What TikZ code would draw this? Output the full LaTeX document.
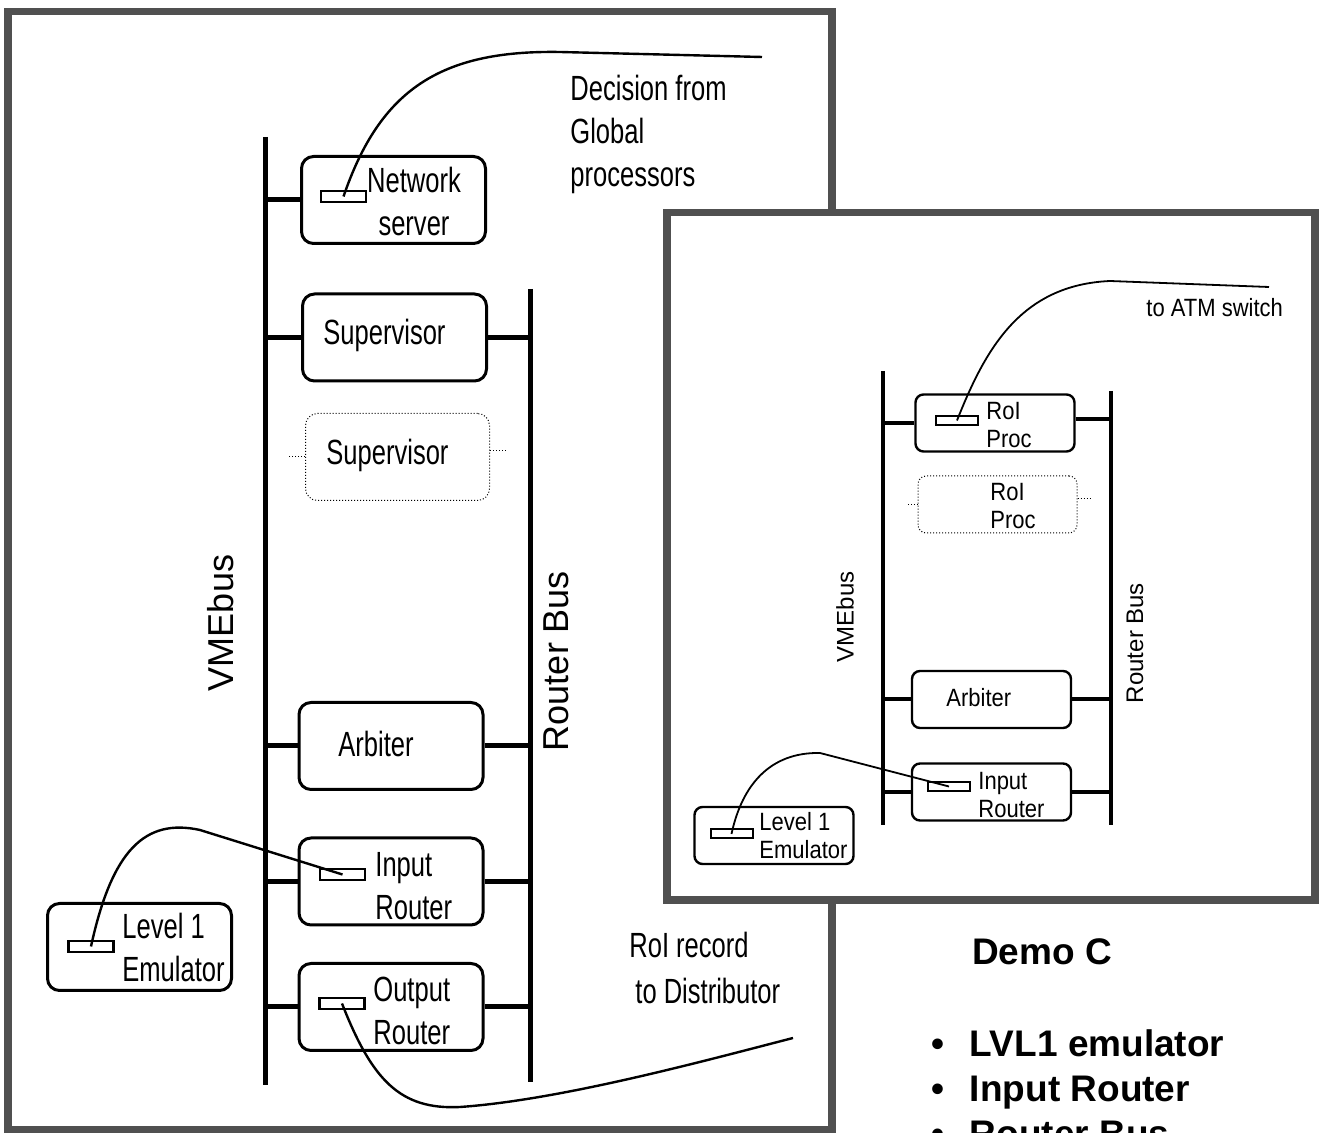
\documentclass[tikz,border=0pt]{standalone}
\usepackage{fontspec}
\setmainfont{Liberation Sans}
\newfontfamily\bignarrow[FakeStretch=0.73]{Liberation Sans}
\newfontfamily\smallnarrow[FakeStretch=0.88]{Liberation Sans}
\usepackage{tikz}
\usetikzlibrary{positioning}
\definecolor{framegray}{RGB}{80,80,80}

\begin{document}
\begin{tikzpicture}[x=0.5pt, y=-0.5pt,
    bx/.style={rectangle, draw, rounded corners=6pt, line width=1.5pt, minimum width=92pt, minimum height=43.5pt, inner sep=0pt},
    gbx/.style={bx, line width=0.5pt, densely dotted},
    sbx/.style={rectangle, draw, rounded corners=4pt, line width=1.2pt, minimum width=79.5pt, minimum height=28.5pt, inner sep=0pt},
    gsbx/.style={sbx, line width=0.5pt, densely dotted},
    pt/.style={rectangle, draw, line width=1.3pt, minimum width=22.5pt, minimum height=5.5pt, inner sep=0pt},
    spt/.style={pt, line width=1pt, minimum width=21pt, minimum height=4.5pt},
    bl/.style={font={\bignarrow\fontsize{17.5}{21.5}\selectfont}, inner sep=0pt, align=left},
    sl/.style={font={\smallnarrow\fontsize{12.5}{14}\selectfont}, inner sep=0pt, align=left},
    busl/.style={font=\fontsize{18}{18}\selectfont, rotate=90},
    sbusl/.style={font=\fontsize{12}{12}\selectfont, rotate=90},
    bus/.style={line width=2.5pt},
    sbus/.style={line width=2.2pt},
    tap/.style={line width=2.5pt},
    stap/.style={line width=2pt},
    ghosttap/.style={densely dotted, line width=0.5pt},
    wire/.style={line width=1.2pt},
    swire/.style={line width=0.9pt},
    fr/.style={draw=framegray, line width=3.6pt}]
    \useasboundingbox (0,0) rectangle (1319,1133);

    \draw[fr] (8,11.5) rectangle (832,1130);
    \coordinate (vt) at (265,137);
    \coordinate (vb) at (265,1085);
    \coordinate (rt) at (530,289);
    \coordinate (rb) at (530,1082);
    \draw[bus] (vt) -- (vb);
    \draw[bus] (rt) -- (rb);
    \node[busl] (vmet) at (221,623) {VMEbus};
    \node[busl] (rbt) at (556,661) {Router Bus};

    \node[bx] (ns) at (393.5,200) {};
    \node[bx] (sup) at (394.5,337.5) {};
    \node[gbx] (supd) at (397.5,457) {};
    \node[bx] (arb) at (391,746) {};
    \node[bx] (ir) at (391,881.5) {};
    \node[bx] (or) at (391,1007) {};
    \node[bx] (lv) at (139.5,947) {};
    \node[pt] (nsp) at (343.5,196.5) {};
    \node[pt] (irp) at (342.5,874.5) {};
    \node[pt] (orp) at (342,1003.5) {};
    \node[pt] (lvp) at (91,946.5) {};

    \node[bl, anchor=north, align=center] (nst) at (414,167) {Network\\server};
    \node[bl, anchor=north west] (dect) at (570,75) {Decision from\\Global\\processors};
    \node[bl, anchor=base west] (supt) at (323,345) {Supervisor};
    \node[bl, anchor=base west] (supdt) at (326,465) {Supervisor};
    \node[bl, anchor=base west] (arbt) at (338,757) {Arbiter};
    \node[bl, anchor=north west] (irt) at (375,852) {Input\\Router};
    \node[bl, anchor=north west] (ort) at (373,977) {Output\\Router};
    \node[bl, anchor=north west] (lvt) at (122,913) {Level 1\\Emulator};
    \node[bl, anchor=north west] (roit) at (629,932) {RoI record\\[1.5pt]\hspace{3pt}to Distributor};

    \draw[tap] (ns.west) -- (ns.west -| vt);
    \draw[tap] (sup.west) -- (sup.west -| vt);
    \draw[tap] (sup.east) -- (sup.east -| rt);
    \draw[tap] (arb.west) -- (arb.west -| vt);
    \draw[tap] (arb.east) -- (arb.east -| rt);
    \draw[tap] (ir.west) -- (ir.west -| vt);
    \draw[tap] (ir.east) -- (ir.east -| rt);
    \draw[tap] (or.west) -- (or.west -| vt);
    \draw[tap] (or.east) -- (or.east -| rt);
    \draw[ghosttap] (supd.west) -- ([xshift=-8pt]supd.west);
    \draw[ghosttap] ([yshift=3pt]supd.east) -- ([xshift=8pt,yshift=3pt]supd.east);

    \coordinate (decend) at (762,57);
    \coordinate (distend) at (793,1038);
    \draw[wire] (nsp.center) .. controls (380,90) and (440,50) .. (560,52) -- (decend);
    \draw[wire] (lvp.center) .. controls (112,850) and (145,818) .. (200,830) -- (irp.center);
    \draw[wire] (orp.center) .. controls (372,1080) and (400,1110) .. (460,1107) .. controls (560,1100) and (700,1062) .. (distend);

    \draw[fr, fill=white] (667,212.5) rectangle (1315,900);
    \coordinate (svt) at (883,371);
    \coordinate (svb) at (883,825);
    \coordinate (srt) at (1111,391);
    \coordinate (srb) at (1111,825);
    \draw[sbus] (svt) -- (svb);
    \draw[sbus] (srt) -- (srb);
    \node[sbusl] (svmet) at (845,617) {VMEbus};
    \node[sbusl] (srbt) at (1135,643) {Router Bus};

    \node[sbx] (rp) at (995,423) {};
    \node[gsbx] (rpd) at (997.5,504.5) {};
    \node[sbx] (sarb) at (991.5,699.5) {};
    \node[sbx] (sir) at (991.5,792) {};
    \node[sbx] (slv) at (774,835.5) {};
    \node[spt] (rpp) at (957,420.5) {};
    \node[spt] (sirp) at (949,786.5) {};
    \node[spt] (slvp) at (731.5,834) {};

    \node[sl, anchor=north west] (rpt) at (986,402) {RoI\\Proc};
    \node[sl, anchor=north west] (rpdt) at (990,483) {RoI\\Proc};
    \node[sl, anchor=base west] (sarbt) at (946,707) {Arbiter};
    \node[sl, anchor=north west] (sirt) at (978,772) {Input\\Router};
    \node[sl, anchor=north west] (slvt) at (759,812) {Level 1\\Emulator};
    \node[sl, anchor=base west] (atmt) at (1146,317) {to ATM switch};

    \draw[stap] (rp.west) -- (rp.west -| svt);
    \draw[stap] ([yshift=2pt]rp.east) -- ([yshift=2pt]rp.east -| srt);
    \draw[stap] (sarb.west) -- (sarb.west -| svt);
    \draw[stap] (sarb.east) -- (sarb.east -| srt);
    \draw[stap] (sir.west) -- (sir.west -| svt);
    \draw[stap] (sir.east) -- (sir.east -| srt);
    \draw[ghosttap] (rpd.west) -- ([xshift=-6pt]rpd.west);
    \draw[ghosttap] ([yshift=3pt]rpd.east) -- ([xshift=7pt,yshift=3pt]rpd.east);

    \coordinate (atmend) at (1269,287);
    \draw[swire] (rpp.center) .. controls (985,350) and (1020,285) .. (1110,281) -- (atmend);
    \draw[swire] (slvp.center) .. controls (742,785) and (770,752) .. (820,753) -- (sirp.center);

    \node[font=\fontsize{18.5}{22.5}\selectfont\bfseries, anchor=base west] (demo) at (965,965) {Demo C};
    \node[font=\fontsize{18.5}{22.5}\selectfont\bfseries, anchor=north west, align=left] (items) at (924,1023)
        {\textbullet\hspace{13pt}LVL1 emulator\\\textbullet\hspace{13pt}Input Router\\\textbullet\hspace{13pt}Router Bus};
\end{tikzpicture}
\end{document}
